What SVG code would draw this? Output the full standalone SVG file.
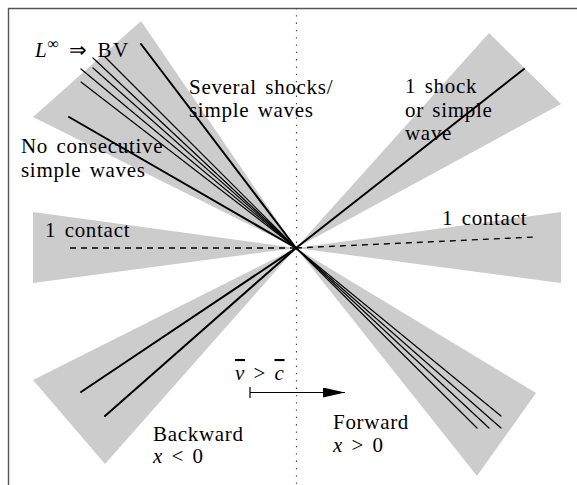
<svg xmlns="http://www.w3.org/2000/svg" width="577" height="485" viewBox="0 0 577 485">
<style>
.wedge{fill:#cccccc;stroke:none}
.thick{stroke:#000;stroke-width:2;fill:none;stroke-linecap:round}
.thin{stroke:#000;stroke-width:1.2;fill:none;stroke-linecap:round}
.dash{stroke:#000;stroke-width:1.3;fill:none;stroke-dasharray:6 5}
text{font-family:'Liberation Serif','Times New Roman',serif;font-size:21px;fill:#000;letter-spacing:0.7px;word-spacing:2.5px}
.it{font-style:italic}
</style>
<defs>
<marker id="ah" viewBox="0 0 22 10" refX="22" refY="5" markerWidth="22" markerHeight="10" markerUnits="userSpaceOnUse" orient="auto">
<path d="M0,0 L22,5 L0,10 Z" fill="#000"/>
</marker>
</defs>
<rect width="577" height="485" fill="#fff"/>
<path d="M8.5,485 V8.5 H577" fill="none" stroke="#555" stroke-width="1.4"/>
<g id="wedges">
<polygon id="wedge-ul" class="wedge" points="296,248 141,21 33,117"/>
<polygon id="wedge-ur" class="wedge" points="296,248 489,33 561,104"/>
<polygon id="wedge-r" class="wedge" points="296,248 561,212 561,283"/>
<polygon id="wedge-l" class="wedge" points="296,248 33,212 33,283"/>
<polygon id="wedge-ll" class="wedge" points="296,248 33,380 105,464"/>
<polygon id="wedge-lr" class="wedge" points="296,248 536,393 477,476"/>
</g>
<line x1="296.5" y1="8" x2="296.5" y2="485" stroke="#444" stroke-width="1.2" stroke-dasharray="1.3 6"/>
<g id="connectors">
<line class="thick" x1="296" y1="248" x2="141" y2="44"/>
<line class="thick" x1="296" y1="248" x2="69" y2="117"/>
<line class="thin" x1="296" y1="248" x2="93" y2="58"/>
<line class="thin" x1="296" y1="248" x2="105" y2="57"/>
<line class="thin" x1="296" y1="248" x2="81" y2="69"/>
<line class="thin" x1="296" y1="248" x2="93" y2="68"/>
<line class="thin" x1="296" y1="248" x2="81" y2="82"/>
<line class="thick" x1="296" y1="248" x2="524" y2="69"/>
<line class="dash" x1="296" y1="248" x2="537" y2="237"/>
<line class="dash" x1="296" y1="248" x2="69" y2="248"/>
<line class="thick" x1="296" y1="248" x2="81" y2="392"/>
<line class="thick" x1="296" y1="248" x2="105" y2="416"/>
<line class="thin" x1="296" y1="248" x2="501" y2="416"/>
<line class="thin" x1="296" y1="248" x2="501" y2="428"/>
<line class="thin" x1="296" y1="248" x2="489" y2="428"/>
<line class="thin" x1="296" y1="248" x2="477" y2="428"/>
<line x1="250" y1="387" x2="250" y2="398" stroke="#000" stroke-width="1.2"/>
<line x1="250" y1="392.5" x2="345" y2="392.5" stroke="#000" stroke-width="1.2" marker-end="url(#ah)"/>
</g>
<g id="labels">
<text id="t-linf" x="35" y="57"><tspan class="it">L</tspan><tspan dy="-8" font-size="16">∞</tspan><tspan dy="8" letter-spacing="1.5px"> ⇒ BV</tspan></text>
<g id="t-several"><text x="189" y="94">Several shocks/</text><text x="189" y="117">simple waves</text></g>
<g id="t-noconsec"><text x="21" y="153">No consecutive</text><text x="21" y="177">simple waves</text></g>
<g id="t-oneshock"><text x="405" y="93">1 shock</text><text x="405" y="117">or simple</text><text x="405" y="140">wave</text></g>
<text id="t-contact-l" x="45" y="237">1 contact</text>
<text id="t-contact-r" x="442" y="225">1 contact</text>
<text id="t-vc" x="235" y="380"><tspan class="it" text-decoration="overline">v</tspan> &gt; <tspan class="it" text-decoration="overline">c</tspan></text>
<g id="t-backward"><text x="153" y="441">Backward</text><text x="153" y="463"><tspan class="it">x</tspan> &lt; 0</text></g>
<g id="t-forward"><text x="333" y="429">Forward</text><text x="333" y="452"><tspan class="it">x</tspan> &gt; 0</text></g>
</g>
</svg>
